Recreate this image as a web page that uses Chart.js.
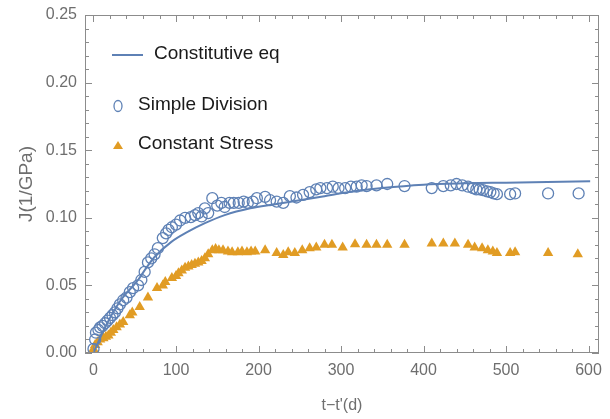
<!DOCTYPE html>
<html>
<head>
<meta charset="utf-8">
<script src="https://cdn.jsdelivr.net/npm/chart.js@4/dist/chart.umd.min.js"></script>
<style>
  html, body { margin: 0; padding: 0; background: #fff; }
  #wrap { width: 610px; height: 419px; }
</style>
</head>
<body>
<div id="wrap"><canvas id="chart"></canvas></div>
<script>
// constitutive equation curve
const curveT = [0, 14, 33, 54, 64, 74, 94, 114, 135, 159, 190, 220, 250, 280, 310, 350, 400, 450, 500, 550, 602];
const curveJ = [0, 0.019, 0.039, 0.054, 0.063, 0.071, 0.082, 0.0895, 0.096, 0.102, 0.107, 0.110, 0.113, 0.116, 0.119, 0.122, 0.1245, 0.1255, 0.126, 0.1265, 0.127];

// simple division (open circles)
const divT = [0, 2, 3, 6, 8, 11, 14, 17, 20, 23, 26, 29, 32, 36, 40, 44, 48, 54, 58, 62, 66, 70, 74, 78, 84, 88, 91, 95, 100, 105, 111, 118, 123, 127, 131, 135, 139, 144, 150, 155, 159, 165, 170, 176, 182, 187, 193, 198, 208, 214, 222, 230, 238, 246, 254, 262, 270, 275, 283, 290, 297, 305, 312, 319, 325, 331, 343, 356, 377, 410, 424, 433, 440, 447, 454, 460, 464, 468, 472, 477, 481, 485, 489, 505, 511, 551, 588];
const divJ = [0.003, 0.010, 0.015, 0.017, 0.019, 0.020, 0.022, 0.024, 0.026, 0.028, 0.030, 0.033, 0.036, 0.039, 0.041, 0.045, 0.048, 0.050, 0.054, 0.060, 0.067, 0.070, 0.073, 0.0775, 0.085, 0.0885, 0.091, 0.093, 0.095, 0.098, 0.100, 0.1005, 0.102, 0.1035, 0.101, 0.107, 0.1035, 0.1145, 0.109, 0.111, 0.108, 0.111, 0.111, 0.111, 0.112, 0.111, 0.112, 0.1145, 0.1155, 0.113, 0.112, 0.111, 0.116, 0.115, 0.117, 0.119, 0.121, 0.122, 0.122, 0.123, 0.122, 0.122, 0.123, 0.123, 0.124, 0.1235, 0.124, 0.125, 0.1235, 0.122, 0.1235, 0.124, 0.125, 0.124, 0.123, 0.122, 0.121, 0.121, 0.1205, 0.1195, 0.119, 0.118, 0.1175, 0.1175, 0.118, 0.118, 0.118];

// constant stress (filled triangles)
const stressT = [0, 2, 5, 8, 12, 15, 18, 21, 24, 28, 32, 36, 44, 47, 56, 66, 77, 84, 87, 95, 100, 103, 107, 111, 115, 119, 123, 127, 131, 135, 139, 144, 148, 152, 157, 163, 168, 175, 180, 186, 191, 196, 208, 222, 230, 236, 244, 253, 262, 270, 280, 289, 302, 317, 331, 343, 356, 377, 410, 424, 438, 454, 462, 471, 478, 484, 489, 505, 511, 551, 587];
const stressJ = [0.003, 0.006, 0.008, 0.010, 0.011, 0.012, 0.013, 0.015, 0.017, 0.019, 0.021, 0.023, 0.028, 0.030, 0.034, 0.041, 0.048, 0.050, 0.0525, 0.0555, 0.057, 0.059, 0.061, 0.063, 0.064, 0.065, 0.066, 0.067, 0.068, 0.070, 0.073, 0.076, 0.077, 0.076, 0.076, 0.075, 0.0745, 0.0745, 0.075, 0.0745, 0.075, 0.075, 0.076, 0.074, 0.0725, 0.0745, 0.074, 0.076, 0.0775, 0.078, 0.080, 0.080, 0.078, 0.0805, 0.080, 0.080, 0.080, 0.080, 0.081, 0.081, 0.081, 0.080, 0.078, 0.0775, 0.076, 0.075, 0.074, 0.074, 0.0745, 0.074, 0.073];

const xTicks = [0, 100, 200, 300, 400, 500, 600];
const yTicks = [0, 0.05, 0.10, 0.15, 0.20, 0.25];

const blue = '#5E81B5';
const orange = '#E19C24';
const frameColor = '#8c8c8c';
const labelColor = '#6e6e6e';
const fontFamily = '"Liberation Sans", Arial, sans-serif';

function pts(xs, ys) {
  return xs.map((x, i) => ({x: x, y: ys[i]}));
}

// Mathematica-style frame with inward ticks on all four sides
const framePlugin = {
  id: 'frame',
  afterDatasetsDraw(chart) {
    const ctx = chart.ctx;
    const a = chart.chartArea;
    const xs = chart.scales.x, ys = chart.scales.y;
    ctx.save();
    ctx.strokeStyle = frameColor;
    ctx.lineWidth = 1;
    ctx.strokeRect(a.left + 0.5, a.top + 0.5, a.right - a.left - 1, a.bottom - a.top - 1);
    ctx.beginPath();
    for (let v = 0; v <= 600; v += 20) {
      const px = Math.round(xs.getPixelForValue(v)) + 0.5;
      const len = v % 100 === 0 ? 7 : 4;
      ctx.moveTo(px, a.bottom); ctx.lineTo(px, a.bottom - len);
      ctx.moveTo(px, a.top); ctx.lineTo(px, a.top + len);
    }
    for (let k = 0; k <= 25; k++) {
      const py = Math.round(ys.getPixelForValue(k / 100)) + 0.5;
      const len = k % 5 === 0 ? 7 : 4;
      ctx.moveTo(a.left, py); ctx.lineTo(a.left + len, py);
      ctx.moveTo(a.right, py); ctx.lineTo(a.right - len, py);
    }
    ctx.stroke();
    ctx.restore();
  }
};

// legend drawn inside the plot, upper left
const legendPlugin = {
  id: 'insideLegend',
  afterDraw(chart) {
    const ctx = chart.ctx;
    ctx.save();
    ctx.font = '19px ' + fontFamily;
    ctx.fillStyle = '#1a1a1a';
    ctx.textBaseline = 'middle';
    ctx.textAlign = 'left';
    // line entry
    ctx.strokeStyle = blue;
    ctx.lineWidth = 2;
    ctx.beginPath(); ctx.moveTo(112, 55); ctx.lineTo(143, 55); ctx.stroke();
    ctx.fillText('Constitutive eq', 154, 54);
    // circle entry
    ctx.lineWidth = 1.3;
    ctx.beginPath(); ctx.ellipse(118, 106, 4, 5.5, 0, 0, Math.PI * 2); ctx.stroke();
    ctx.fillText('Simple Division', 138, 105);
    // triangle entry
    ctx.fillStyle = orange;
    ctx.beginPath(); ctx.moveTo(118, 141); ctx.lineTo(123, 149); ctx.lineTo(113, 149); ctx.closePath(); ctx.fill();
    ctx.fillStyle = '#1a1a1a';
    ctx.fillText('Constant Stress', 138, 144);
    ctx.restore();
  }
};

new Chart(document.getElementById('chart'), {
  type: 'scatter',
  data: {
    datasets: [
      {
        label: 'Constitutive eq',
        data: pts(curveT, curveJ),
        showLine: true,
        borderColor: blue,
        borderWidth: 2,
        pointRadius: 0,
        cubicInterpolationMode: 'monotone',
        fill: false
      },
      {
        label: 'Simple Division',
        data: pts(divT, divJ),
        pointStyle: 'circle',
        pointRadius: 5.5,
        borderColor: blue,
        borderWidth: 1.3,
        backgroundColor: 'rgba(0,0,0,0)'
      },
      {
        label: 'Constant Stress',
        data: pts(stressT, stressJ),
        pointStyle: 'triangle',
        pointRadius: 6,
        borderColor: orange,
        borderWidth: 0,
        backgroundColor: orange
      }
    ]
  },
  options: {
    responsive: true,
    maintainAspectRatio: false,
    animation: false,
    layout: { padding: { top: 15, right: 11, left: 0, bottom: 0 } },
    plugins: {
      legend: { display: false },
      tooltip: { enabled: false }
    },
    scales: {
      x: {
        type: 'linear',
        min: -10.3,
        max: 612.7,
        grid: { display: false },
        border: { display: false },
        afterBuildTicks: s => { s.ticks = xTicks.map(v => ({value: v})); },
        afterFit: s => { s.height = 66; },
        ticks: {
          padding: 0,
          color: labelColor,
          font: { family: fontFamily, size: 16 }
        },
        title: {
          display: true,
          text: "t\u2212t'(d)",
          color: labelColor,
          font: { family: fontFamily, size: 16 },
          padding: { top: 0, bottom: 4 }
        }
      },
      y: {
        type: 'linear',
        min: 0,
        max: 0.25,
        grid: { display: false },
        border: { display: false },
        afterBuildTicks: s => { s.ticks = yTicks.map(v => ({value: v})); },
        afterFit: s => { s.width = 85; },
        ticks: {
          padding: 0,
          color: labelColor,
          font: { family: fontFamily, size: 16 },
          callback: v => v.toFixed(2)
        },
        title: {
          display: true,
          text: 'J(1/GPa)',
          color: labelColor,
          font: { family: fontFamily, size: 19 },
          padding: { top: 15, bottom: 0 }
        }
      }
    }
  },
  plugins: [framePlugin, legendPlugin]
});
</script>
</body>
</html>
